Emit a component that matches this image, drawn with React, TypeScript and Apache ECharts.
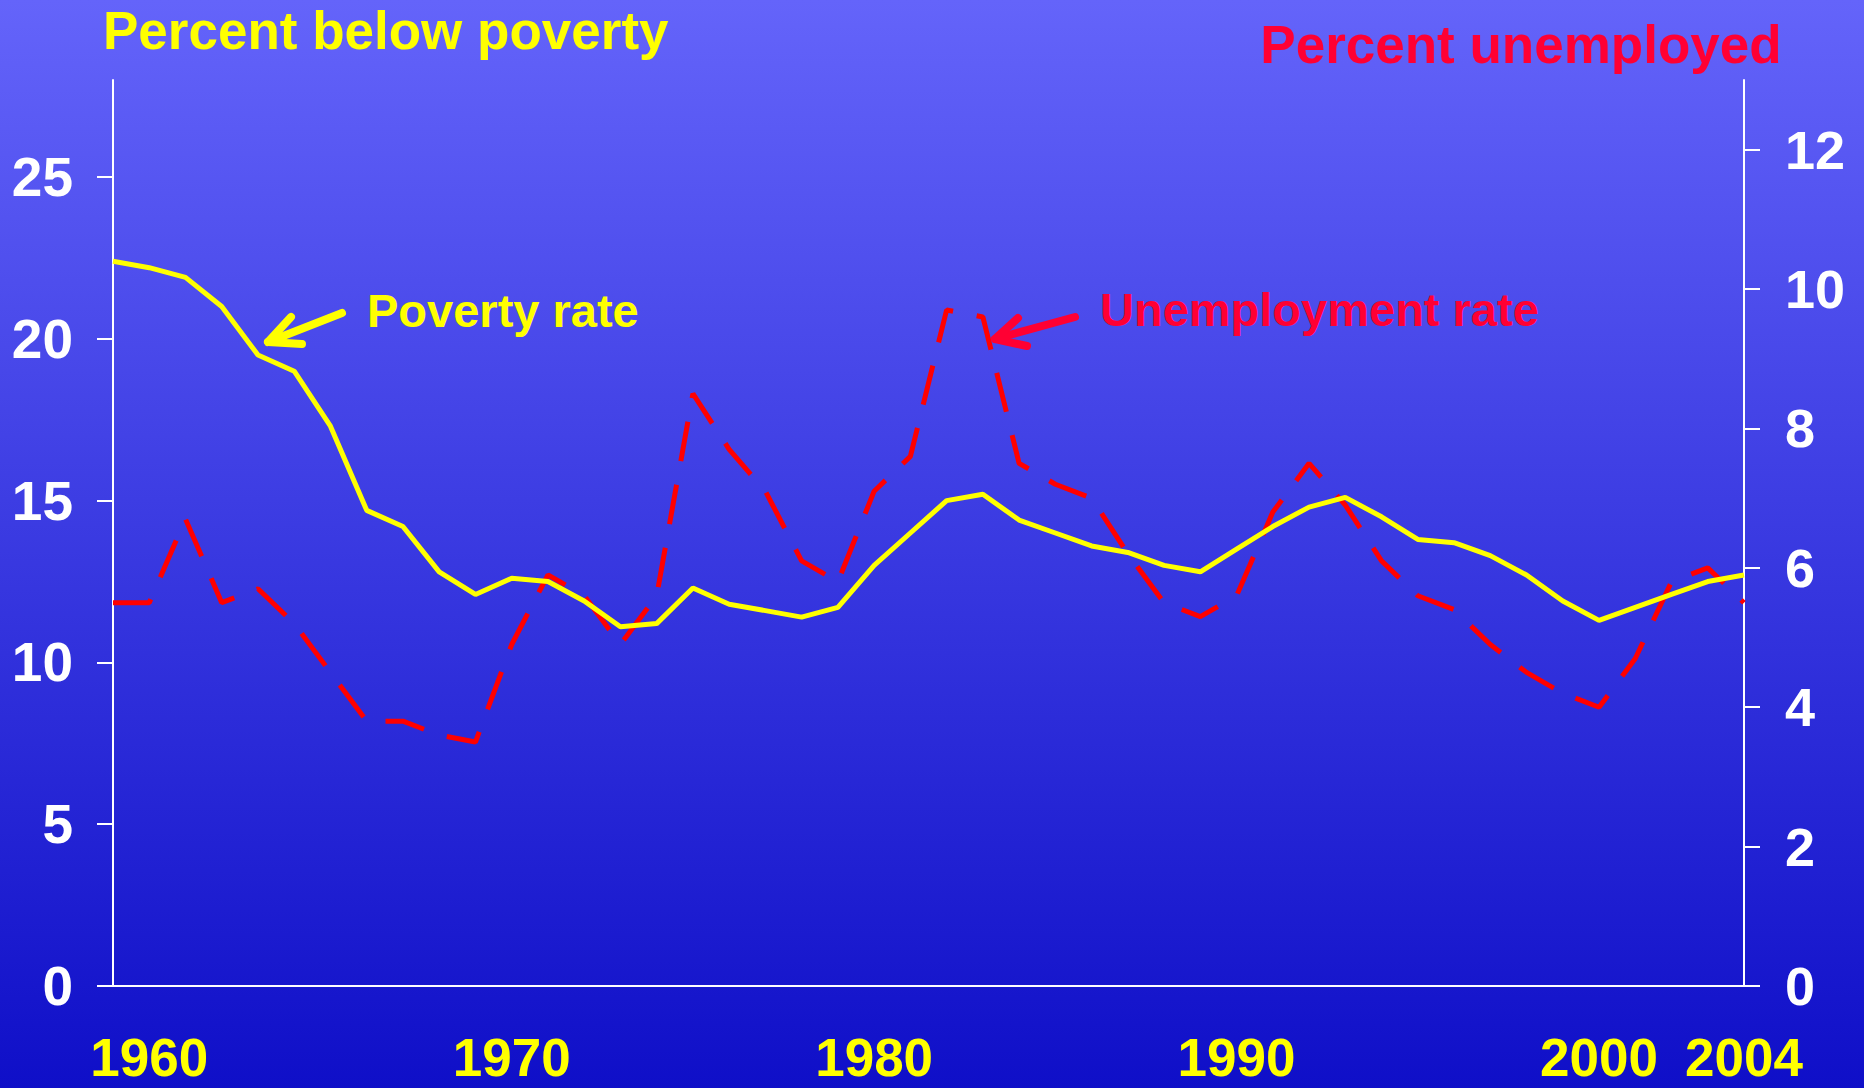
import React, { useEffect, useRef } from "react";
import * as echarts from "echarts";

const years: number[] = Array.from({ length: 46 }, (_, i) => 1959 + i);

const povertyRate: number[] = [
  22.4, 22.2, 21.9, 21.0, 19.5, 19.0, 17.3, 14.7, 14.2, 12.8, 12.1,
  12.6, 12.5, 11.9, 11.1, 11.2, 12.3, 11.8, 11.6, 11.4, 11.7,
  13.0, 14.0, 15.0, 15.2, 14.4, 14.0, 13.6, 13.4, 13.0, 12.8,
  13.5, 14.2, 14.8, 15.1, 14.5, 13.8, 13.7, 13.3, 12.7, 11.9,
  11.3, 11.7, 12.1, 12.5, 12.7,
];

const unemploymentRate: number[] = [
  5.5, 5.5, 6.7, 5.5, 5.7, 5.2, 4.5, 3.8, 3.8, 3.6, 3.5,
  4.9, 5.9, 5.6, 4.9, 5.6, 8.5, 7.7, 7.1, 6.1, 5.8,
  7.1, 7.6, 9.7, 9.6, 7.5, 7.2, 7.0, 6.2, 5.5, 5.3,
  5.6, 6.8, 7.5, 6.9, 6.1, 5.6, 5.4, 4.9, 4.5, 4.2,
  4.0, 4.7, 5.8, 6.0, 5.5,
];

const xTickLabels: number[] = [1960, 1970, 1980, 1990, 2000, 2004];
const leftTicks: number[] = [0, 5, 10, 15, 20, 25];
const rightTicks: number[] = [0, 2, 4, 6, 8, 10, 12];

const FONT = '"Liberation Sans", Arial, Helvetica, sans-serif';
const YELLOW = "#FFFF00";
const RED_LINE = "#FF0000";
const RED_TEXT = "#FF0033";

export default function App() {
  const ref = useRef<HTMLDivElement>(null);

  useEffect(() => {
    if (!ref.current) return;
    const chart = echarts.init(ref.current, undefined, { renderer: "svg" });

    const povData = years.map((y, i) => [y, povertyRate[i]]);
    const unData = years.map((y, i) => [y, unemploymentRate[i]]);

    const arrow = (
      shaft: number[][],
      head: number[][],
      color: string
    ) => [
      {
        type: "polyline",
        shape: { points: shaft },
        style: { stroke: color, lineWidth: 8, lineCap: "round", lineJoin: "round", fill: null },
        z: 100,
      },
      {
        type: "polyline",
        shape: { points: head },
        style: { stroke: color, lineWidth: 8, lineCap: "round", lineJoin: "round", fill: null },
        z: 100,
      },
    ];

    const option: any = {
      animation: false,
      backgroundColor: new echarts.graphic.LinearGradient(0, 0, 0, 1, [
        { offset: 0, color: "#6464FA" },
        { offset: 1, color: "#0F0FC8" },
      ]),
      grid: { left: 113, right: 120, top: 80, bottom: 102, containLabel: false },
      xAxis: {
        type: "value",
        min: 1959,
        max: 2004,
        axisLine: { show: true, lineStyle: { color: "#FFFFFF", width: 2 } },
        axisTick: { show: false },
        splitLine: { show: false },
        axisLabel: {
          customValues: xTickLabels,
          color: YELLOW,
          fontFamily: FONT,
          fontWeight: "bold",
          fontSize: 53,
          lineHeight: 44,
          margin: 49,
          formatter: (v: number) => String(v),
        },
      },
      yAxis: [
        {
          type: "value",
          min: 0,
          max: 28,
          position: "left",
          axisLine: { show: true, onZero: false, lineStyle: { color: "#FFFFFF", width: 2 } },
          axisTick: {
            show: true,
            customValues: leftTicks,
            length: 16,
            lineStyle: { color: "#FFFFFF", width: 2 },
          },
          splitLine: { show: false },
          axisLabel: {
            customValues: leftTicks,
            color: "#FFFFFF",
            fontFamily: FONT,
            fontWeight: "bold",
            fontSize: 55,
            margin: 40,
          },
        },
        {
          type: "value",
          min: 0,
          max: 13,
          position: "right",
          axisLine: { show: true, onZero: false, lineStyle: { color: "#FFFFFF", width: 2 } },
          axisTick: {
            show: true,
            customValues: rightTicks,
            length: 16,
            lineStyle: { color: "#FFFFFF", width: 2 },
          },
          splitLine: { show: false },
          axisLabel: {
            customValues: rightTicks,
            color: "#FFFFFF",
            fontFamily: FONT,
            fontWeight: "bold",
            fontSize: 54,
            margin: 41,
          },
        },
      ],
      series: [
        {
          name: "Poverty rate",
          type: "line",
          yAxisIndex: 0,
          data: povData,
          symbol: "none",
          lineStyle: { color: YELLOW, width: 5 },
          z: 3,
        },
        {
          name: "Unemployment rate",
          type: "line",
          yAxisIndex: 1,
          data: unData,
          symbol: "none",
          lineStyle: { color: RED_LINE, width: 5, type: [40, 24] },
          z: 2,
        },
      ],
      graphic: [
        {
          type: "text",
          x: 103,
          y: 30,
          style: {
            text: "Percent below poverty",
            fill: YELLOW,
            font: `bold 53px ${FONT}`,
            textAlign: "left",
            textVerticalAlign: "middle",
          },
        },
        {
          type: "text",
          x: 1521,
          y: 44,
          style: {
            text: "Percent unemployed",
            fill: RED_TEXT,
            font: `bold 53px ${FONT}`,
            textAlign: "center",
            textVerticalAlign: "middle",
          },
        },
        {
          type: "text",
          x: 367,
          y: 310,
          style: {
            text: "Poverty rate",
            fill: YELLOW,
            font: `bold 47px ${FONT}`,
            textAlign: "left",
            textVerticalAlign: "middle",
          },
        },
        {
          type: "text",
          x: 1100,
          y: 309,
          style: {
            text: "Unemployment rate",
            fill: RED_TEXT,
            font: `bold 47px ${FONT}`,
            textAlign: "left",
            textVerticalAlign: "middle",
          },
        },
        ...arrow(
          [[342, 313], [268, 342]],
          [[291, 317], [268, 342], [302, 344]],
          YELLOW
        ),
        ...arrow(
          [[1075, 317], [995, 339]],
          [[1018, 318], [995, 339], [1027, 346]],
          RED_TEXT
        ),
      ],
    };

    chart.setOption(option);
    return () => {
      chart.dispose();
    };
  }, []);

  return (
    <div
      ref={ref}
      style={{ position: "fixed", left: 0, top: 0, width: 1864, height: 1088 }}
    />
  );
}
